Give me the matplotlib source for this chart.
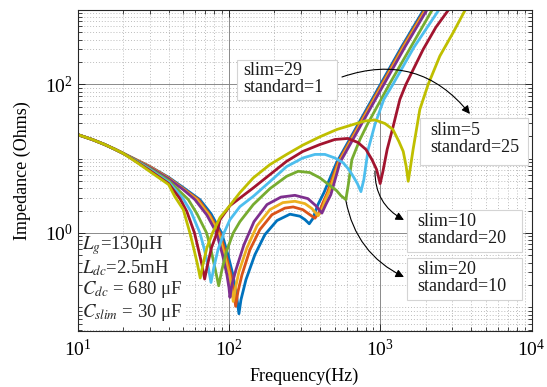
import matplotlib
matplotlib.use('Agg')
import matplotlib.pyplot as plt
from matplotlib.patches import Rectangle
from matplotlib.ticker import FixedLocator, LogLocator, NullFormatter

plt.rcParams['font.family'] = ['Liberation Serif', 'DejaVu Serif']
plt.rcParams['mathtext.fontset'] = 'stix'

# common low-frequency part (all curves overlap here)
f_low = [10, 12.5, 15, 17.5, 20]
z_low = [21.1, 18.1, 15.6, 13.5, 11.8]

# per-curve values, from 25 Hz on
f_blue = [25, 30.1, 40, 50, 64.4, 76.2, 89.6, 98.6, 106.4, 112.3, 116.6, 120.2, 129.7, 148.6, 173, 208,
          253.5, 295, 318.6, 339.8, 359, 388, 425, 515, 713, 995, 1390, 1945, 2130]
z_blue = [9.43, 7.83, 5.61, 4.08, 2.81, 1.82, 1.0, 0.51, 0.274, 0.147, 0.082, 0.126, 0.235, 0.51, 0.95, 1.47,
          1.79, 1.68, 1.51, 1.33, 1.56, 2.41, 3.49, 8.86, 28.8, 96.6, 324, 1020, 1393]

f_orange = [25, 30.1, 40, 50, 63, 75, 87.4, 95.7, 103.3, 108.1, 110.9, 114.8, 122.1, 137.8, 160.3, 192.6,
            234.6, 266, 308, 343.3, 370.6, 394, 418.6, 448, 525, 726, 1014, 1416, 1982, 2168]
z_orange = [9.43, 7.83, 5.51, 3.95, 2.81, 1.74, 1.0, 0.51, 0.274, 0.157, 0.103, 0.162, 0.274, 0.595, 1.11, 1.76,
            2.16, 2.24, 2.06, 1.76, 1.58, 1.88, 2.56, 3.49, 8.86, 28.8, 96.6, 324, 1020, 1393]

f_yellow = [25, 30.1, 40, 50, 61.5, 73.9, 85.3, 93.5, 100.9, 104.8, 106.9, 110.7, 116.6, 131.8, 153.5, 186.8,
            227.5, 273.3, 318.6, 354, 389.4, 412, 434.7, 462, 533, 737, 1030, 1438, 2011, 2203]
z_yellow = [9.37, 7.7, 5.43, 3.89, 2.81, 1.74, 1.0, 0.51, 0.274, 0.172, 0.12, 0.183, 0.301, 0.634, 1.25, 2.06,
            2.56, 2.67, 2.48, 2.13, 1.71, 2.06, 2.81, 3.72, 8.86, 28.8, 96.6, 324, 1020, 1393]

f_purple = [25, 30.1, 40, 50, 59.7, 71.6, 83, 90.8, 97.1, 100.2, 101.7, 104.8, 111.4, 125.8, 146.6, 178.6,
            221, 273.3, 332.6, 375.6, 412, 437.5, 472, 542, 750, 1048, 1465, 2047, 2244]
z_purple = [9.28, 7.59, 5.34, 3.83, 2.81, 1.74, 1.0, 0.51, 0.274, 0.183, 0.136, 0.201, 0.32, 0.695, 1.42, 2.41,
            3.04, 3.21, 2.9, 2.33, 1.85, 2.41, 3.28, 8.86, 28.8, 96.6, 324, 1020, 1393]

f_green = [25, 30.1, 40, 54, 61.5, 71.3, 76.2, 80.9, 85.7, 90, 96.3, 106.9, 118.3, 145, 186.8, 241, 287,
           343, 400, 466, 515, 550, 593, 616, 650, 735, 822, 1148, 1603, 2217, 2422]
z_green = [9.14, 7.35, 5.07, 2.81, 1.82, 1.0, 0.595, 0.34, 0.195, 0.32, 0.56, 1.0, 1.42, 2.41, 3.95, 5.79, 6.76,
           6.5, 5.51, 4.34, 3.72, 3.18, 2.81, 4.48, 9.72, 18.1, 28.8, 99.6, 324, 1020, 1393]

f_cyan = [25, 30.1, 40, 49.8, 56.2, 64.4, 69, 72.8, 76.2, 79.8, 84.8, 92.8, 101.7, 118.3, 145, 186.8, 241,
          308, 370.6, 431.5, 502, 570, 621, 663, 707, 746, 780, 833, 923, 1057, 1213, 1670, 2455, 2673]
z_cyan = [9.03, 7.13, 4.84, 2.9, 1.94, 1.0, 0.595, 0.362, 0.216, 0.352, 0.595, 1.0, 1.51, 2.26, 3.11, 4.91, 7.83,
          10.2, 11.4, 11.4, 10.2, 8.78, 7.13, 5.79, 4.62, 3.6, 5.23, 13.3, 28.8, 62.6, 99.6, 314, 1020, 1393]

f_red = [25, 30.1, 40, 47.5, 52.8, 59.3, 63, 66.4, 69.2, 72.3, 76.8, 83.4, 87.4, 101.7, 145, 186.8, 241, 308,
         400, 502, 612, 713, 805, 882, 947, 1000, 1042, 1112, 1213, 1349, 1479, 1923, 2333, 2844, 3114]
z_red = [8.86, 6.91, 4.62, 2.9, 1.94, 1.0, 0.595, 0.374, 0.24, 0.374, 0.634, 1.0, 1.51, 2.33, 4.04, 6.1, 9.22, 12.5,
         15.5, 18.1, 18.7, 16.5, 13.3, 9.72, 7.13, 4.62, 6.7, 13.3, 26.2, 62.6, 99.6, 295, 585, 1020, 1393]

f_olive = [25, 30.1, 40, 44, 50, 55.3, 58.9, 62.1, 64.7, 67.4, 71.6, 78, 87.4, 100.6, 118.3, 145, 186.8, 241,
           308, 400, 518, 663, 793, 923, 1075, 1213, 1330, 1420, 1486, 1532, 1583, 1650, 1828, 2075, 2479,
           3034, 3664, 3915]
z_olive = [8.73, 6.70, 4.48, 3.08, 2.06, 1.0, 0.595, 0.374, 0.248, 0.374, 0.634, 1.0, 1.61, 2.28, 3.49, 5.51, 8.32,
           11.4, 15.2, 19.7, 24.7, 28.8, 32.1, 33.2, 29.7, 24.7, 17, 12.5, 7.83, 4.96, 7.59, 13.3, 45.9, 99.6,
           240, 496, 1020, 1393]

curves = [
    (f_blue, z_blue, '#0072BD'),
    (f_orange, z_orange, '#D95319'),
    (f_yellow, z_yellow, '#EDB120'),
    (f_purple, z_purple, '#7E2F8E'),
    (f_green, z_green, '#77AC30'),
    (f_cyan, z_cyan, '#4DBEEE'),
    (f_red, z_red, '#A2142F'),
    (f_olive, z_olive, '#BFBF00'),
]

params = [r'$L_g$=130μH', r'$L_{dc}$=2.5mH', r'$C_{dc}$ = 680 μF', r'$C_{slim}$ = 30 μF']
case_labels = [('slim=29', 'standard=1'), ('slim=5', 'standard=25'),
               ('slim=10', 'standard=20'), ('slim=20', 'standard=10')]

fig = plt.figure(figsize=(5.47, 3.87), dpi=100)
ax = fig.add_axes([0.1417, 0.1447, 0.830, 0.8295])

for f, z, c in curves:
    ax.loglog(f_low + f, z_low + z, color=c, lw=2.0, solid_capstyle='round')

ax.set_xlim(10, 1e4)
ax.set_ylim(0.048, 1000)

ax.xaxis.set_major_locator(FixedLocator([10, 100, 1000, 10000]))
ax.xaxis.set_minor_locator(LogLocator(base=10, subs=range(2, 10)))
ax.yaxis.set_major_locator(FixedLocator([0.01, 1, 100]))
ax.yaxis.set_minor_locator(LogLocator(base=10, subs=range(1, 10)))
ax.xaxis.set_minor_formatter(NullFormatter())
ax.yaxis.set_minor_formatter(NullFormatter())

ax.grid(True, which='major', color='#8a8a8a', lw=0.7, ls='-')
ax.grid(True, which='minor', color='#bdbdbd', lw=0.7, ls=(0, (1, 2)))
ax.tick_params(which='both', direction='in', top=True, right=True, labelsize=14, colors='#262626')
ax.tick_params(which='major', length=5, width=0.7)
ax.tick_params(which='minor', length=3, width=0.6)
ax.tick_params(axis='x', which='major', pad=6)
for tl in ax.get_xticklabels() + ax.get_yticklabels():
    tl.set_color('black')
for s in ax.spines.values():
    s.set_color('#262626')
    s.set_linewidth(0.8)

ax.set_xlabel('Frequency(Hz)', fontsize=13, labelpad=5)
ax.set_ylabel('Impedance (Ohms)', fontsize=13, labelpad=10)


# figure pixel (from top-left) -> axes fraction
def axfrac(px, py):
    return (px - 77.5) / 454.1, (331 - py) / 321.0


# parameter box, lower left
x0, y0 = axfrac(83, 326)
x1, y1 = axfrac(186, 236)
ax.add_patch(Rectangle((x0, y0), x1 - x0, y1 - y0, transform=ax.transAxes,
                       fc='white', ec='none', zorder=1.6))
for i, s in enumerate(params):
    tx, ty = axfrac(82, 246 + 22 * i)
    ax.text(tx, ty, s, transform=ax.transAxes, fontsize=13.5,
            ha='left', va='center', color='#262626', zorder=3)

# case boxes: (left, top, right, bottom), text left, line centres
boxes = [
    ((237, 60, 337, 100), 243, (71, 88)),
    ((420, 118, 528, 165), 430, (131, 148)),
    ((407, 210, 522, 252), 417, (222, 239)),
    ((407, 258, 522, 300), 417, (270, 287)),
]
for (rect, tl, lines), txt in zip(boxes, case_labels):
    l, t, r, b = rect
    bx0, by0 = axfrac(l, b)
    bx1, by1 = axfrac(r, t)
    ax.add_patch(Rectangle((bx0, by0), bx1 - bx0, by1 - by0, transform=ax.transAxes,
                           fc='white', ec='#d4d4d4', lw=0.8, zorder=4))
    for s, ly in zip(txt, lines):
        tx, ty = axfrac(tl, ly)
        ax.text(tx, ty, s, transform=ax.transAxes, fontsize=13, ha='left', va='center',
                color='#1a1a1a', zorder=4.5)

arrows = [
    ((342, 77), (470, 114), -0.35),
    ((375, 171), (404, 220), 0.3),
    ((346, 201), (404, 277), 0.25),
]
for p0, p1, rad in arrows:
    ax.annotate('', xy=axfrac(*p1), xytext=axfrac(*p0), xycoords='axes fraction',
                textcoords='axes fraction', zorder=5,
                arrowprops=dict(arrowstyle='-|>', color='black', lw=0.8, mutation_scale=12,
                                shrinkA=0, shrinkB=0, connectionstyle='arc3,rad=%g' % rad))

fig.savefig('out.png', dpi=100)
